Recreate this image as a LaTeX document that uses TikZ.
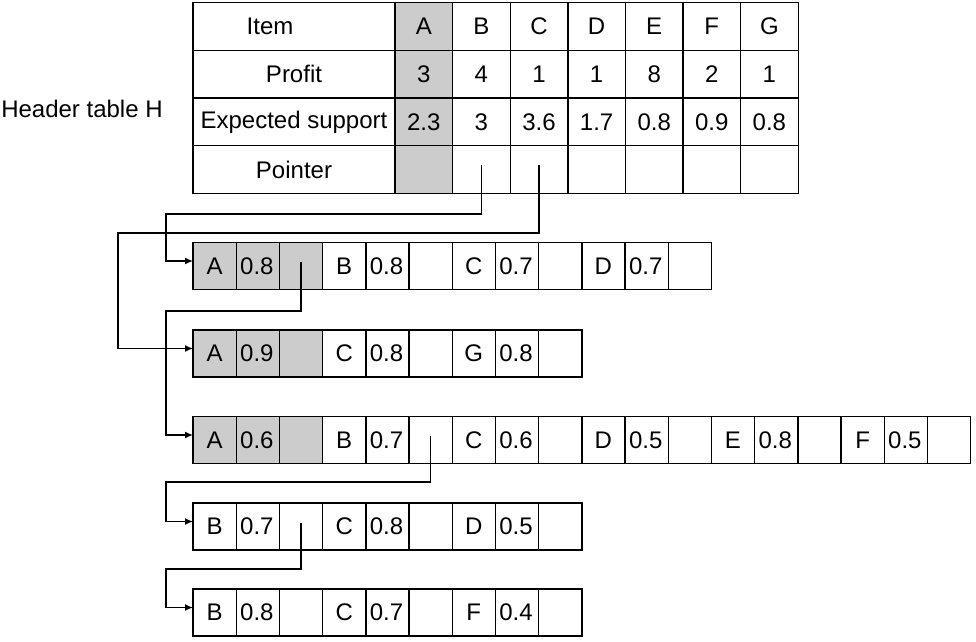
\documentclass[tikz,border=0pt]{standalone}
\usepackage{fontspec}
\setmainfont{Liberation Sans}
\usepackage{tikz}
\usetikzlibrary{arrows.meta,backgrounds}
\definecolor{cellgray}{RGB}{204,204,204}

\begin{document}
\begin{tikzpicture}[x=0.5pt,y=-0.5pt,
	font=\fontsize{12}{14}\selectfont,
	hcell/.style={draw,line width=0.7pt,inner sep=0pt,outer sep=0pt,minimum width=28.8pt,minimum height=23.75pt},
	lcell/.style={draw,line width=0.7pt,inner sep=0pt,outer sep=0pt,minimum width=21.6pt,minimum height=23.5pt,anchor=west},
	vcell/.style={inner xsep=2pt,text width=17.6pt,align=left},
	ptr/.style={line width=0.7pt,-{Latex[length=4pt,width=3.5pt]}}]
	\useasboundingbox (0,0) rectangle (976,642);
	\node (title) at (82,109) {Header table H};
	% header table
	\node[hcell,minimum width=101pt] (h-item) at (294,26.5) {};
	\node (t-item) at (270,26.5) {Item};
	\node[hcell,minimum width=101pt] (h-prof) at (294,74) {Profit};
	\node[hcell,minimum width=101pt] (h-sup) at (294,122) {Expected support};
	\node[hcell,minimum width=101pt] (h-ptr) at (294,169.5) {Pointer};
	\foreach \itm/\pr/\su [count=\i] in {A/3/2.3,B/4/3,C/1/3.6,D/1/1.7,E/8/0.8,F/2/0.9,G/1/0.8}
	{
		\pgfmathsetmacro\cx{395+57.6*(\i-0.5)}
		\node[hcell] (hi-\itm) at (\cx,26.5) {\itm};
		\node[hcell] (hr-\itm) at (\cx,74) {\pr};
		\node[hcell] (hs-\itm) at (\cx,122) {\su};
		\node[hcell] (hp-\itm) at (\cx,169.5) {};
	}
	% lists
	\foreach \r/\ry/\lst in {1/266/{A/0.8,B/0.8,C/0.7,D/0.7},
		2/353.5/{A/0.9,C/0.8,G/0.8},
		3/440/{A/0.6,B/0.7,C/0.6,D/0.5,E/0.8,F/0.5},
		4/526.5/{B/0.7,C/0.8,D/0.5},
		5/612.5/{B/0.8,C/0.7,F/0.4}}
	{
		\foreach \itm/\val [count=\i] in \lst
		{
			\pgfmathsetmacro\cx{193+129.6*(\i-1)}
			\node[lcell] (r\r-\i-itm) at (\cx,\ry) {\itm};
			\node[lcell,vcell] (r\r-\i-val) at (r\r-\i-itm.east) {\val};
			\node[lcell] (r\r-\i-ptr) at (r\r-\i-val.east) {};
		}
	}
	\begin{scope}[on background layer]
		\fill[cellgray] (hi-A.north west) rectangle (hp-A.south east);
		\foreach \r in {1,2,3}
			\fill[cellgray] (r\r-1-itm.north west) rectangle (r\r-1-ptr.south east);
	\end{scope}
	% pointers
	\coordinate (k1) at (166,214);
	\coordinate (k2) at (118,233);
	\coordinate (k3) at (166,311);
	\coordinate (k4) at (166,482);
	\coordinate (k5) at (166,569);
	\draw[ptr] ([yshift=2pt]hp-B.center) |- (k1) |- ([yshift=2.5pt]r1-1-itm.west);
	\draw[ptr] ([yshift=2pt]hp-C.center) |- (k2) |- ([yshift=2.5pt]r2-1-itm.west);
	\draw[ptr] ([yshift=2pt]r1-1-ptr.center) |- (k3) |- ([yshift=2.5pt]r3-1-itm.west);
	\draw[ptr] ([yshift=2pt]r3-2-ptr.center) |- (k4) |- ([yshift=2.5pt]r4-1-itm.west);
	\draw[ptr] ([yshift=2pt]r4-1-ptr.center) |- (k5) |- ([yshift=2.5pt]r5-1-itm.west);
\end{tikzpicture}
\end{document}
